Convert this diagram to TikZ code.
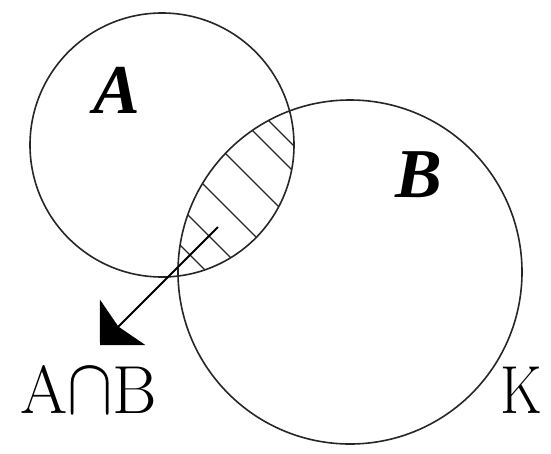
\documentclass[tikz,border=0pt]{standalone}
\RequirePackage{fix-cm}
\usepackage{graphicx}
\usepackage{fontspec}
\newfontfamily\timesf{Liberation Serif}
\usetikzlibrary{arrows.meta}
\tikzset{
  ring/.style={draw=black!85, line width=1.6pt},
  hatch/.style={draw=black!85, line width=1.3pt},
  setlabel/.style={anchor=base, inner sep=0pt, font=\timesf\bfseries\itshape\fontsize{70}{80}\selectfont},
  plainlabel/.style={anchor=base, inner sep=0pt, font=\fontsize{68}{78}\selectfont},
  pointer/.style={line width=1.8pt, -{Stealth[length=32pt, width=64pt, inset=6pt]}}
}
\begin{document}
\begin{tikzpicture}[x=1pt, y=-1pt]
  \useasboundingbox (0,0) rectangle (551,453);
  \coordinate (cA) at (162,145);
  \coordinate (cB) at (350,272);
  % hatch of the intersection
  \begin{scope}
    \clip (cA) circle (132);
    \clip (cB) circle (172);
    \foreach \c in {148,122,72,19,-27,-65} {
      \draw[hatch] (\c+0,0) -- (\c+400,400);
    }
  \end{scope}
  \draw[ring] (cA) circle (132);
  \draw[ring] (cB) circle (172);
  \node[setlabel] (la) at (117,113) {A};
  \node[setlabel] (lb) at (419,197) {B};
  \node[plainlabel] (lab) at (89,413) {A\scalebox{1}[1.18]{$\cap$}B};
  \node[plainlabel, xscale=0.85] (lk) at (521,413) {K};
  \coordinate (s) at (218,227);
  \coordinate (t) at (100,345);
  \draw[pointer] (s) -- (t);
\end{tikzpicture}
\end{document}
